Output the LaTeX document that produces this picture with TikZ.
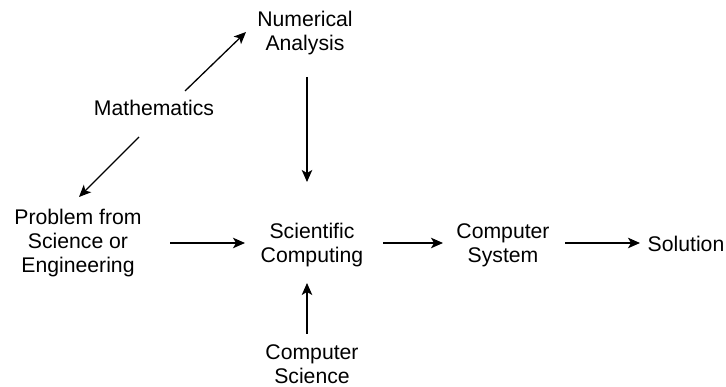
\documentclass[tikz,border=0pt]{standalone}
\usepackage{fontspec}
\setmainfont{Liberation Sans}
\usetikzlibrary{arrows.meta}

\newcommand{\lblfont}{\fontsize{21.2}{24}\selectfont}

\begin{document}
\begin{tikzpicture}[%
        x = 1pt, y = 1pt,
        lbl/.style = {%
            align = center,
            inner sep = 0pt,
            font = \lblfont
        },
        arr/.style = {%
            -{Stealth[length = 12pt, width = 10.5pt, inset = 3pt]},
            line width = 1.3pt
        }
    ]
        \useasboundingbox (0,0) rectangle (726,387);

        % The places of the labels.
        \coordinate (pnum) at (305,354);
        \coordinate (pmath) at (154,279);
        \coordinate (pprob) at (78,144);
        \coordinate (psci) at (312,142);
        \coordinate (psys) at (503,142);
        \coordinate (psol) at (686,143);
        \coordinate (pcs) at (312,23);

        % The labels.
        \node[lbl] (num) at (pnum) {Numerical\\Analysis};
        \node[lbl] (math) at (pmath) {Mathematics};
        \node[lbl] (prob) at (pprob) {Problem from\\Science or\\Engineering};
        \node[lbl] (sci) at (psci) {Scientific\\Computing};
        \node[lbl] (sys) at (psys) {Computer\\System};
        \node[lbl] (sol) at (psol) {Solution};
        \node[lbl] (cs) at (pcs) {Computer\\Science};

        % Arrows out of mathematics.
        \draw[arr] ([shift = {(31,17)}]math.center) to ([shift = {(-59,1)}]num.center);
        \draw[arr] ([shift = {(-15,-29)}]math.center) to ([shift = {(1,46)}]prob.center);

        % Arrows into scientific computing.
        \draw[arr] ([shift = {(2,-44)}]num.center) to ([shift = {(-5,63)}]sci.center);
        \draw[arr] ([shift = {(-5,30)}]cs.center) to ([shift = {(-5,-38)}]sci.center);
        \draw[arr] ([shift = {(92,0)}]prob.center) to ([shift = {(-67,2)}]sci.center);

        % Arrows on to the solution.
        \draw[arr] ([shift = {(71,2)}]sci.center) to ([shift = {(-60,2)}]sys.center);
        \draw[arr] ([shift = {(62,2)}]sys.center) to ([shift = {(-46,1)}]sol.center);
    \end{tikzpicture}
\end{document}
